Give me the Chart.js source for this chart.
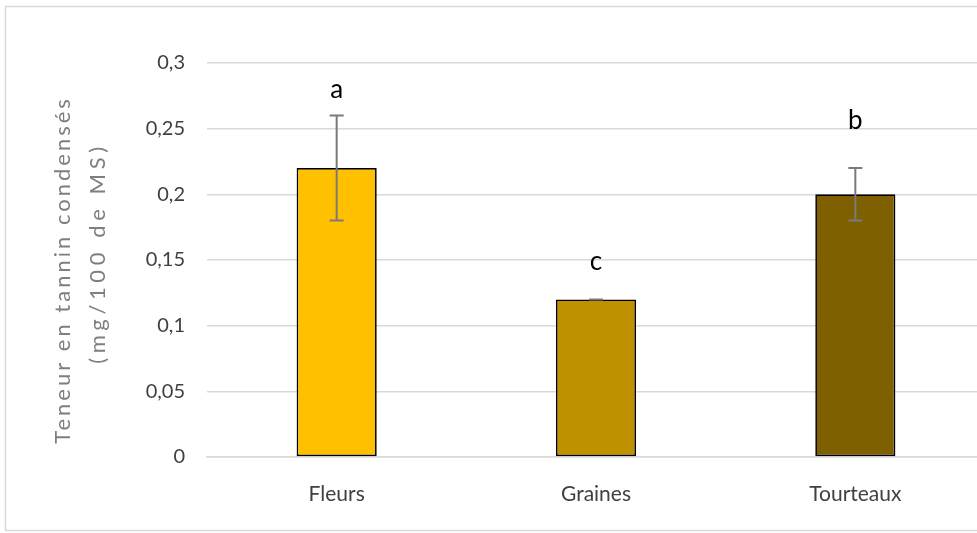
<!DOCTYPE html>
<html>
<head>
<meta charset="utf-8">
<script src="https://cdn.jsdelivr.net/npm/chart.js@4/dist/chart.umd.min.js"></script>
<style>
  html, body { margin: 0; padding: 0; background: #ffffff; overflow: hidden; }
  #wrap { position: absolute; left: 0; top: 0; width: 1000px; height: 533px; }
</style>
</head>
<body>
<div id="wrap"><canvas id="chart" width="1000" height="533"></canvas></div>
<script>
// Condensed tannin content per plant part (mg/100 g DM)
const categories = ['Fleurs', 'Graines', 'Tourteaux'];
const tanninValues = [0.22, 0.12, 0.20];
const tanninErrors = [0.04, 0.00, 0.02];
const groupLetters = ['a', 'c', 'b'];
const letterLevels = [0.28, 0.149, 0.256];
const barColors = ['#FFC000', '#BF9000', '#7F6000'];
const yTickLabels = ['0', '0,05', '0,1', '0,15', '0,2', '0,25', '0,3'];
const yTitleLines = ['Teneur en tannin condensés', '(mg/100 de MS)'];

const FONT = 'Lato, "Open Sans", sans-serif';

// Light frame around the figure
const framePlugin = {
  id: 'frame',
  beforeDraw(chart) {
    const ctx = chart.ctx;
    ctx.save();
    ctx.strokeStyle = '#d9d9d9';
    ctx.lineWidth = 1.5;
    ctx.strokeRect(5.5, 6.5, chart.width + 20, 524);
    ctx.restore();
  }
};

// Standard deviation whiskers drawn through the value scale
const errorBarPlugin = {
  id: 'errorBars',
  afterDatasetsDraw(chart) {
    const ctx = chart.ctx;
    const y = chart.scales.y;
    const meta = chart.getDatasetMeta(0);
    ctx.save();
    ctx.strokeStyle = '#7a7a7a';
    ctx.lineWidth = 2;
    meta.data.forEach((bar, i) => {
      const hi = y.getPixelForValue(tanninValues[i] + tanninErrors[i]);
      const lo = y.getPixelForValue(tanninValues[i] - tanninErrors[i]);
      const cap = 7;
      ctx.beginPath();
      ctx.moveTo(bar.x, hi); ctx.lineTo(bar.x, lo);
      ctx.moveTo(bar.x - cap, hi); ctx.lineTo(bar.x + cap, hi);
      ctx.moveTo(bar.x - cap, lo); ctx.lineTo(bar.x + cap, lo);
      ctx.stroke();
    });
    ctx.restore();
  }
};

// Significance group letters above each bar
const letterPlugin = {
  id: 'groupLetters',
  afterDatasetsDraw(chart) {
    const ctx = chart.ctx;
    const y = chart.scales.y;
    const meta = chart.getDatasetMeta(0);
    ctx.save();
    ctx.fillStyle = '#000000';
    ctx.font = '26px ' + FONT;
    ctx.textAlign = 'center';
    ctx.textBaseline = 'middle';
    meta.data.forEach((bar, i) => {
      ctx.fillText(groupLetters[i], bar.x, y.getPixelForValue(letterLevels[i]));
    });
    ctx.restore();
  }
};

// Two-line rotated value-axis title
const yTitlePlugin = {
  id: 'yTitle',
  afterDraw(chart) {
    const ctx = chart.ctx;
    const area = chart.chartArea;
    const cy = (area.top + area.bottom) / 2;
    ctx.save();
    ctx.fillStyle = '#7f7f7f';
    ctx.font = '22px ' + FONT;
    ctx.textAlign = 'center';
    ctx.textBaseline = 'middle';
    const xs = [63, 98];
    const offs = [10, -7];
    const spacing = ['3px', '4.6px'];
    yTitleLines.forEach((line, i) => {
      ctx.save();
      if ('letterSpacing' in ctx) ctx.letterSpacing = spacing[i];
      ctx.translate(xs[i], cy + offs[i]);
      ctx.rotate(-Math.PI / 2);
      ctx.fillText(line, 0, 0);
      ctx.restore();
    });
    ctx.restore();
  }
};

new Chart(document.getElementById('chart'), {
  type: 'bar',
  data: {
    labels: categories,
    datasets: [{
      data: tanninValues,
      backgroundColor: barColors,
      borderColor: '#000000',
      borderWidth: 1.7,
      borderSkipped: false,
      barPercentage: 0.309,
      categoryPercentage: 1.0
    }]
  },
  options: {
    responsive: false,
    animation: false,
    devicePixelRatio: 1,
    layout: { padding: { left: 0, top: 63, right: 15, bottom: 0 } },
    plugins: {
      legend: { display: false },
      tooltip: { enabled: false },
      title: { display: false }
    },
    scales: {
      x: {
        grid: { display: false, drawTicks: false },
        border: { display: true, color: '#d9d9d9', width: 1.5 },
        ticks: { color: '#404040', font: { family: FONT, size: 21 }, padding: 25 },
        afterFit(scale) { scale.height = 76; }
      },
      y: {
        min: 0,
        max: 0.3,
        grid: { color: '#d9d9d9', lineWidth: 1.5, drawTicks: false },
        border: { display: false },
        ticks: {
          stepSize: 0.05,
          color: '#404040',
          font: { family: FONT, size: 20 },
          padding: 22,
          callback: (v, i) => yTickLabels[i]
        },
        afterFit(scale) { scale.width = 207; }
      }
    }
  },
  plugins: [framePlugin, errorBarPlugin, letterPlugin, yTitlePlugin]
});
</script>
</body>
</html>
